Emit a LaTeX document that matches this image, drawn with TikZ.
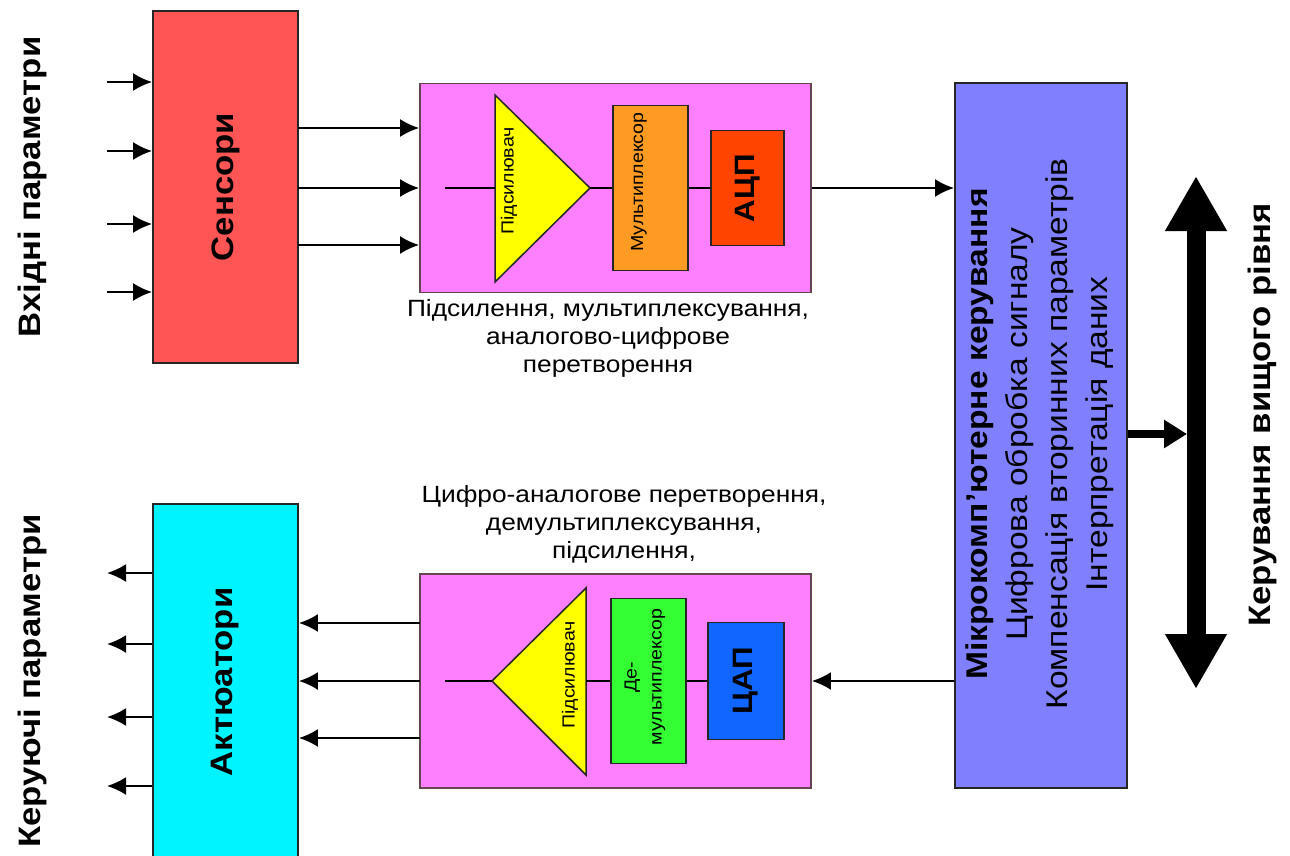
\documentclass[tikz,border=0pt]{standalone}
\usepackage{fontspec}
\setmainfont{Liberation Sans}[FakeStretch=1.12]
\usepackage{graphicx}
\usetikzlibrary{arrows.meta, positioning}

\definecolor{sensred}{HTML}{FF5555}
\definecolor{panelpink}{HTML}{FF80FF}
\definecolor{ampyellow}{HTML}{FFFF00}
\definecolor{muxorange}{HTML}{FF9A22}
\definecolor{adcred}{HTML}{FF4400}
\definecolor{actcyan}{HTML}{00F4FF}
\definecolor{demuxgreen}{HTML}{33FF33}
\definecolor{dacblue}{HTML}{1166FF}
\definecolor{mcuviolet}{HTML}{8080FF}

\begin{document}
\begin{tikzpicture}[x=1pt, y=-1pt,
  block/.style={draw=black!85, line width=1.8pt, inner sep=0pt, align=center},
  panel/.style={block, draw=black!70!magenta, fill=panelpink},
  sig/.style={line width=2.2pt, -{Latex[length=19pt,width=18pt]}},
  wire/.style={line width=2.2pt},
  bigtxt/.style={font=\fontsize{31}{36}\selectfont\bfseries},
  smalltxt/.style={font=\fontsize{17.5}{25}\selectfont, rotate=90, align=center, inner sep=0pt},
  captxt/.style={font=\fontsize{23.5}{28}\selectfont, align=center, inner sep=0pt}
]
\useasboundingbox (0,0) rectangle (1290,856);

% side labels
\node[bigtxt, rotate=90] (inlbl) at (32,187) {Вхідні параметри};
\node[bigtxt, rotate=90] (outlbl) at (32,681) {Керуючі параметри};
\node[bigtxt, rotate=90] (toplbl) at (1262,415) {Керування вищого рівня};

% sensors and actuators
\node[block, fill=sensred, minimum width=145pt, minimum height=352pt] (sens) at (225.5,187)
  {\rotatebox{90}{\fontsize{31}{36}\selectfont\bfseries Сенсори}};
\node[block, fill=actcyan, minimum width=145pt, minimum height=356pt] (act) at (225.5,682)
  {\rotatebox{90}{\fontsize{31}{36}\selectfont\bfseries Актюатори}};

% input panel
\node[panel, minimum width=391pt, minimum height=209pt] (adcpanel) at (615.5,188) {};
\filldraw[line width=1.5pt, draw=black!85, fill=ampyellow] (495,95) coordinate (amp1a)
  -- (590,188) coordinate (amp1tip) -- (495,282) coordinate (amp1b) -- cycle;
\node[block, fill=muxorange, minimum width=75pt, minimum height=165pt] (mux) at (650.5,188) {};
\node[block, fill=adcred, minimum width=73pt, minimum height=115pt] (adc) at (747.5,188)
  {\rotatebox{90}{\fontsize{28}{32}\selectfont\bfseries АЦП}};
\node[smalltxt] (amp1txt) at (509,181) {Підсилювач};
\node[smalltxt] (muxtxt) at (639,182) {Мультиплексор};
\coordinate (amp1in) at (445,188);
\draw[wire] (amp1in) -- (amp1in -| amp1a);
\draw[wire] (amp1tip) -- (mux.west);
\draw[wire] (mux.east) -- (adc.west);
\node[captxt] (adccap) at (608,338)
  {Підсилення, мультиплексування,\\аналогово-цифрове\\перетворення};

% output panel
\node[panel, minimum width=391pt, minimum height=214pt] (dacpanel) at (615.5,681) {};
\filldraw[line width=1.5pt, draw=black!85, fill=ampyellow] (586,588) coordinate (amp2a)
  -- (492,681) coordinate (amp2tip) -- (586,775) coordinate (amp2b) -- cycle;
\node[block, fill=demuxgreen, minimum width=75pt, minimum height=165pt] (demux) at (648.5,681) {};
\node[block, fill=dacblue, minimum width=76pt, minimum height=117pt] (dac) at (746,681)
  {\rotatebox{90}{\fontsize{28}{32}\selectfont\bfseries ЦАП}};
\node[smalltxt] (amp2txt) at (570,675) {Підсилювач};
\node[smalltxt] (demuxtxt) at (645,677) {Де-\\мультиплексор};
\coordinate (amp2out) at (445,681);
\draw[wire] (dac.west) -- (demux.east);
\draw[wire] (demux.west) -- (demux.west -| amp2a);
\draw[wire] (amp2tip) -- (amp2out);
\node[captxt] (daccap) at (624,524)
  {Цифро-аналогове перетворення,\\демультиплексування,\\підсилення,};

% microcomputer
\node[block, fill=mcuviolet, minimum width=172pt, minimum height=705pt] (mcu) at (1041,435.5) {};
\node[rotate=90, align=center, inner sep=0pt, font=\fontsize{30}{40}\selectfont] (mcutxt) at (1040,434)
  {\textbf{Мікрокомп'ютерне керування}\\Цифрова обробка сигналу\\Компенсація вторинних параметрів\\Інтерпретація даних};

% signal flow
\foreach \y in {82,151,224,292} {
  \coordinate (in) at (107,\y);
  \draw[sig] (in) -- (in -| sens.west);
}
\foreach \y in {128,188,245} {
  \coordinate (sout) at (298,\y);
  \draw[sig] (sout) -- (sout -| adcpanel.west);
}
\draw[sig] (adcpanel.east) -- (adcpanel.east -| mcu.west);
\draw[sig] (mcu.west |- dacpanel.east) -- (dacpanel.east);
\foreach \y in {623,681,738} {
  \coordinate (dout) at (420,\y);
  \draw[sig] (dout) -- (dout -| act.east);
}
\foreach \y in {573,644,717,786} {
  \coordinate (out) at (107,\y);
  \draw[sig] (out -| act.west) -- (out);
}

% upper level bus
\coordinate (bustop) at (1196,176);
\coordinate (busbot) at (1196,689);
\coordinate (busjoin) at (1187,434);
\draw[line width=19pt, {Triangle[length=55pt,width=58pt]}-{Triangle[length=55pt,width=58pt]}] (bustop) -- (busbot);
\draw[line width=8pt, -{Triangle[length=23pt,width=27pt]}] (mcu.east |- busjoin) -- (busjoin);
\end{tikzpicture}
\end{document}
